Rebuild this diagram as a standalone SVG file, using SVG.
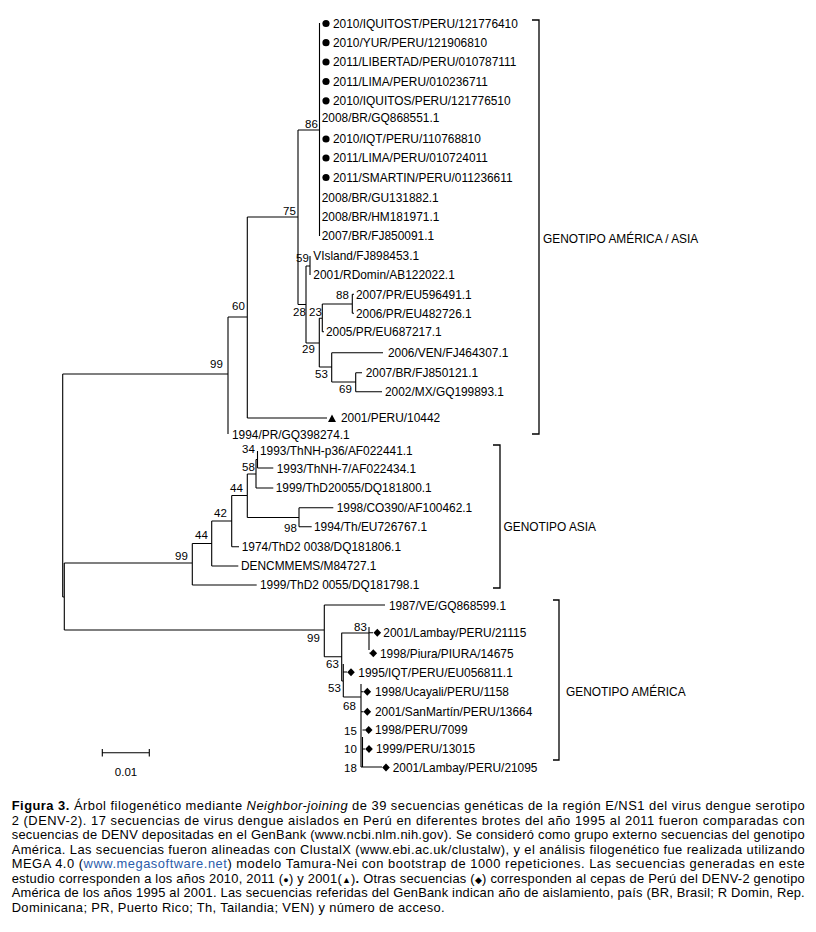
<svg xmlns="http://www.w3.org/2000/svg" width="816" height="932" viewBox="0 0 816 932">
<style>
.br{fill:none;stroke:#000;stroke-width:1.1}
.bk{fill:none;stroke:#000;stroke-width:1.3}
text{font-family:"Liberation Sans",Arial,"DejaVu Sans",sans-serif;fill:#000}
.lf{font-size:11.9px}
.bs{font-size:11.5px}
.gl{font-size:11.9px}
.cap{font-size:12.9px}
.mk{fill:#000}
</style>
<defs>
<circle id="dot" r="3.6" class="mk"/>
<polygon id="dia" points="0,-4 3.8,0 0,4 -3.8,0" class="mk"/>
<polygon id="tri" points="-4,3.5 4,3.5 0,-4" class="mk"/>
</defs>
<rect width="816" height="932" fill="#fff"/>

<g id="connectors">
<path class="br" d="M62.7,374H228 M62.7,374V597 M62.7,597H64.3 M64.3,563V630 M64.3,563H192.3 M64.3,630H324.3
M228,317V434 M228,317H247.3 M247.3,217V418 M247.3,418H327 M247.3,217H298 M298,130V304.5 M298,130H319.5 M319.5,23V236
M298,304.5H306 M306,266V343 M306,266H310 M310,256V275 M306,343H319.3 M319.3,318.3V367 M319.3,318.3H322.3 M322.3,304V331.7 M322.3,331.7H324 M322.3,304H352.3 M352.3,294.3V313.3 M352.3,294.3H354 M352.3,313.3H354
M319.3,367H331.7 M331.7,352.7V382 M331.7,352.7H383 M331.7,382H355.7 M355.7,372.7V391.7 M355.7,372.7H362 M355.7,391.7H382
M192.3,543.5V585 M192.3,585H256.7 M192.3,543.5H211.7 M211.7,521V566 M211.7,566H238.3 M211.7,521H231.7 M231.7,495.5V546.7 M231.7,546.7H239
M231.7,495.5H247.3 M247.3,474V517.5 M247.3,517.5H299 M299,507.7V526.7 M299,507.7H333.3 M299,526.7H311.7
M247.3,474H256 M256,459.5V488 M256,488H273.3 M256,459.5H257.5 M257.5,451V468 M257.5,468H273.3
M324.3,605V656.7 M324.3,605H385 M324.3,656.7H341.7 M341.7,632.7V681 M341.7,633H369 M369,627V650 M369,632.7H373 M369,653H369.5
M341.7,681H343.3 M343.3,664V697 M343.3,672H347 M343.3,697H361 M361,684V767 M362.5,737V767 M361,767H382
M361,691.7H363.5 M361,711.7H363.5 M362.5,730H365 M362.5,749H365"/>
</g>

<g id="scale">
<path class="br" d="M102.3,752.7H149.3 M102.3,749V756.5 M149.3,749V756.5"/>
<text class="bs" x="126" y="776" text-anchor="middle">0.01</text>
</g>

<g id="bootstrap">
<text class="bs" x="305" y="128">86</text>
<text class="bs" x="283" y="215">75</text>
<text class="bs" x="232" y="310">60</text>
<text class="bs" x="210" y="368">99</text>
<text class="bs" x="296" y="262">59</text>
<text class="bs" x="293" y="316">28</text>
<text class="bs" x="309" y="316">23</text>
<text class="bs" x="336" y="299">88</text>
<text class="bs" x="302" y="353">29</text>
<text class="bs" x="315" y="378">53</text>
<text class="bs" x="339" y="393">69</text>
<text class="bs" x="242" y="453">34</text>
<text class="bs" x="242" y="471">58</text>
<text class="bs" x="230" y="492">44</text>
<text class="bs" x="214" y="517">42</text>
<text class="bs" x="195" y="539">44</text>
<text class="bs" x="175" y="560">99</text>
<text class="bs" x="284" y="532">98</text>
<text class="bs" x="307" y="642">99</text>
<text class="bs" x="354" y="631">83</text>
<text class="bs" x="326" y="668">63</text>
<text class="bs" x="328" y="692">53</text>
<text class="bs" x="343" y="710">68</text>
<text class="bs" x="344" y="735">15</text>
<text class="bs" x="344" y="753">10</text>
<text class="bs" x="344" y="772">18</text>
</g>

<g id="leaves-america-asia">
<g id="l1"><use href="#dot" x="326" y="23.5"/><text class="lf" x="333" y="27.8">2010/IQUITOST/PERU/121776410</text></g>
<g id="l2"><use href="#dot" x="326" y="42.7"/><text class="lf" x="333" y="47">2010/YUR/PERU/121906810</text></g>
<g id="l3"><use href="#dot" x="326" y="62"/><text class="lf" x="333" y="66.3">2011/LIBERTAD/PERU/010787111</text></g>
<g id="l4"><use href="#dot" x="326" y="81.5"/><text class="lf" x="333" y="85.8">2011/LIMA/PERU/010236711</text></g>
<g id="l5"><use href="#dot" x="326" y="100.8"/><text class="lf" x="333" y="105.1">2010/IQUITOS/PERU/121776510</text></g>
<g id="l6"><text class="lf" x="321.7" y="122.3">2008/BR/GQ868551.1</text></g>
<g id="l7"><use href="#dot" x="326" y="139"/><text class="lf" x="333" y="143.3">2010/IQT/PERU/110768810</text></g>
<g id="l8"><use href="#dot" x="326" y="158"/><text class="lf" x="333" y="162.3">2011/LIMA/PERU/010724011</text></g>
<g id="l9"><use href="#dot" x="326" y="177.5"/><text class="lf" x="333" y="181.8">2011/SMARTIN/PERU/011236611</text></g>
<g id="l10"><text class="lf" x="321.7" y="201.8">2008/BR/GU131882.1</text></g>
<g id="l11"><text class="lf" x="321.7" y="221">2008/BR/HM181971.1</text></g>
<g id="l12"><text class="lf" x="321.7" y="240.3">2007/BR/FJ850091.1</text></g>
<g id="l13"><text class="lf" x="313.3" y="260.3">VIsland/FJ898453.1</text></g>
<g id="l14"><text class="lf" x="313.3" y="279.3">2001/RDomin/AB122022.1</text></g>
<g id="l15"><text class="lf" x="356" y="298.6">2007/PR/EU596491.1</text></g>
<g id="l16"><text class="lf" x="356" y="317.6">2006/PR/EU482726.1</text></g>
<g id="l17"><text class="lf" x="326" y="336">2005/PR/EU687217.1</text></g>
<g id="l18"><text class="lf" x="388" y="357">2006/VEN/FJ464307.1</text></g>
<g id="l19"><text class="lf" x="365.7" y="377">2007/BR/FJ850121.1</text></g>
<g id="l20"><text class="lf" x="385" y="396">2002/MX/GQ199893.1</text></g>
<g id="l21"><use href="#tri" x="332" y="418.5"/><text class="lf" x="341" y="422.3">2001/PERU/10442</text></g>
<g id="l22"><text class="lf" x="232" y="438.5">1994/PR/GQ398274.1</text></g>
</g>

<g id="leaves-asia">
<g id="a1"><text class="lf" x="260" y="455.3">1993/ThNH-p36/AF022441.1</text></g>
<g id="a2"><text class="lf" x="276.7" y="472.6">1993/ThNH-7/AF022434.1</text></g>
<g id="a3"><text class="lf" x="275.7" y="492">1999/ThD20055/DQ181800.1</text></g>
<g id="a4"><text class="lf" x="336.7" y="512">1998/CO390/AF100462.1</text></g>
<g id="a5"><text class="lf" x="314" y="531">1994/Th/EU726767.1</text></g>
<g id="a6"><text class="lf" x="241.7" y="551">1974/ThD2 0038/DQ181806.1</text></g>
<g id="a7"><text class="lf" x="241" y="570.3">DENCMMEMS/M84727.1</text></g>
<g id="a8"><text class="lf" x="260" y="589.3">1999/ThD2 0055/DQ181798.1</text></g>
</g>

<g id="leaves-america">
<g id="m1"><text class="lf" x="389" y="609.5">1987/VE/GQ868599.1</text></g>
<g id="m2"><use href="#dia" x="377.3" y="632.7"/><text class="lf" x="383.3" y="637">2001/Lambay/PERU/21115</text></g>
<g id="m3"><use href="#dia" x="373.3" y="653.3"/><text class="lf" x="380" y="657.6">1998/Piura/PIURA/14675</text></g>
<g id="m4"><use href="#dia" x="351" y="672.3"/><text class="lf" x="358.3" y="676.6">1995/IQT/PERU/EU056811.1</text></g>
<g id="m5"><use href="#dia" x="367.3" y="691.7"/><text class="lf" x="375" y="696">1998/Ucayali/PERU/1158</text></g>
<g id="m6"><use href="#dia" x="367.3" y="711.7"/><text class="lf" x="375" y="716">2001/SanMartín/PERU/13664</text></g>
<g id="m7"><use href="#dia" x="368.7" y="730"/><text class="lf" x="375" y="734.3">1998/PERU/7099</text></g>
<g id="m8"><use href="#dia" x="369" y="749"/><text class="lf" x="376" y="753.3">1999/PERU/13015</text></g>
<g id="m9"><use href="#dia" x="386" y="767.5"/><text class="lf" x="392.7" y="771.8">2001/Lambay/PERU/21095</text></g>
</g>

<g id="group-america-asia">
<path class="bk" d="M532,20H539V434H532"/>
<text class="gl" x="543" y="242.5">GENOTIPO AMÉRICA / ASIA</text>
</g>
<g id="group-asia">
<path class="bk" d="M493,445H500V588H493"/>
<text class="gl" x="503.5" y="531">GENOTIPO ASIA</text>
</g>
<g id="group-america">
<path class="bk" d="M553,600H559V760H553"/>
<text class="gl" x="566" y="696">GENOTIPO AMÉRICA</text>
</g>

<g id="caption">
<text class="cap" x="11.7" y="810" textLength="793" lengthAdjust="spacing"><tspan font-weight="bold">Figura 3.</tspan> Árbol filogenético mediante <tspan font-style="italic">Neighbor-joining</tspan> de 39 secuencias genéticas de la región E/NS1 del virus dengue serotipo</text>
<text class="cap" x="11.7" y="824.5" textLength="793" lengthAdjust="spacing">2 (DENV-2). 17 secuencias de virus dengue aislados en Perú en diferentes brotes del año 1995 al 2011 fueron comparadas con</text>
<text class="cap" x="11.7" y="839" textLength="793" lengthAdjust="spacing">secuencias de DENV depositadas en el GenBank (www.ncbi.nlm.nih.gov). Se consideró como grupo externo secuencias del genotipo</text>
<text class="cap" x="11.7" y="853.5" textLength="793" lengthAdjust="spacing">América. Las secuencias fueron alineadas con ClustalX (www.ebi.ac.uk/clustalw), y el análisis filogenético fue realizada utilizando</text>
<text class="cap" x="11.7" y="868" textLength="793" lengthAdjust="spacing">MEGA 4.0 (<tspan fill="#2a5caa">www.megasoftware.net</tspan>) modelo Tamura-Nei con bootstrap de 1000 repeticiones. Las secuencias generadas en este</text>
<text class="cap" x="11.7" y="882.5" textLength="793" lengthAdjust="spacing">estudio corresponden a los años 2010, 2011 (<tspan font-size="9">●</tspan>) y 2001(<tspan font-size="9">▲</tspan>)<tspan font-weight="bold">.</tspan> Otras secuencias (<tspan font-size="9">◆</tspan>) corresponden al cepas de Perú del DENV-2 genotipo</text>
<text class="cap" x="11.7" y="897" textLength="793" lengthAdjust="spacing">América de los años 1995 al 2001. Las secuencias referidas del GenBank indican año de aislamiento, país (BR, Brasil; R Domin, Rep.</text>
<text class="cap" x="11.7" y="911.5" textLength="433" lengthAdjust="spacing">Dominicana; PR, Puerto Rico; Th, Tailandia; VEN) y número de acceso.</text>
</g>
</svg>
